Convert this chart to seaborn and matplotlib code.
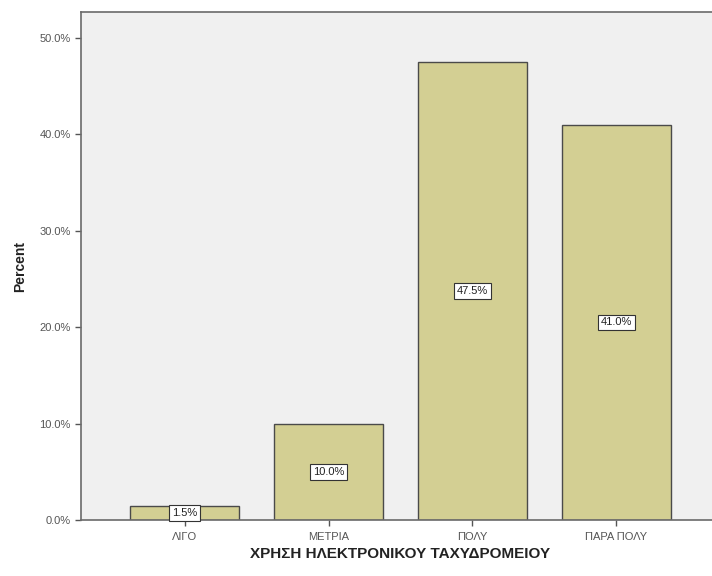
import numpy as np
import seaborn as sns
import pandas as pd
import matplotlib.pyplot as plt
from matplotlib.ticker import FuncFormatter

# data
categories = ['ΛΙΓΟ', 'ΜΕΤΡΙΑ', 'ΠΟΛΥ', 'ΠΑΡΑ ΠΟΛΥ']
percents = [1.5, 10.0, 47.5, 41.0]
yticks = [0, 10, 20, 30, 40, 50]

df = pd.DataFrame({'cat': categories, 'pct': percents})

sns.set_style('white')
plt.rcParams['font.family'] = ['Liberation Sans', 'DejaVu Sans']

fig = plt.figure(figsize=(7.12, 5.76), dpi=100)
W, H = 712, 576
ax = fig.add_axes([81 / W, (H - 520) / H, (720 - 81) / W, (520 - 12) / H])
ax.set_facecolor('#f0f0f0')

sns.barplot(data=df, x='cat', y='pct', color='#d3cf93', width=0.76,
            edgecolor='#4a4a4a', linewidth=1.0, saturation=1, ax=ax)

# value labels in white boxes at mid-height
for i, v in enumerate(percents):
    ax.text(i, v / 2, f'{v:.1f}%', ha='center', va='center', fontsize=8,
            color='#222222',
            bbox=dict(boxstyle='square,pad=0.25', fc='white', ec='#333333', lw=0.8))

ax.set_xlim(-0.72, 3.72)
ax.set_ylim(0, 52.7)
ax.set_yticks(yticks)
ax.yaxis.set_major_formatter(FuncFormatter(lambda y, _: f'{y:.1f}%'))
ax.tick_params(axis='both', labelsize=8, colors='#555555', length=4, width=1,
               direction='out', left=True, bottom=True)
ax.tick_params(axis='x', pad=5)
ax.tick_params(axis='both', labelcolor='#555555')

for s in ax.spines.values():
    s.set_color('#6a6a6a')
    s.set_linewidth(1.2)

ax.set_ylabel('Percent', fontsize=10, fontweight='bold', color='#222222', labelpad=9)
ax.set_xlabel('ΧΡΗΣΗ ΗΛΕΚΤΡΟΝΙΚΟΥ ΤΑΧΥΔΡΟΜΕΙΟΥ', fontsize=11, fontweight='bold',
              color='#222222', labelpad=3)

fig.savefig('out.png', dpi=100)
